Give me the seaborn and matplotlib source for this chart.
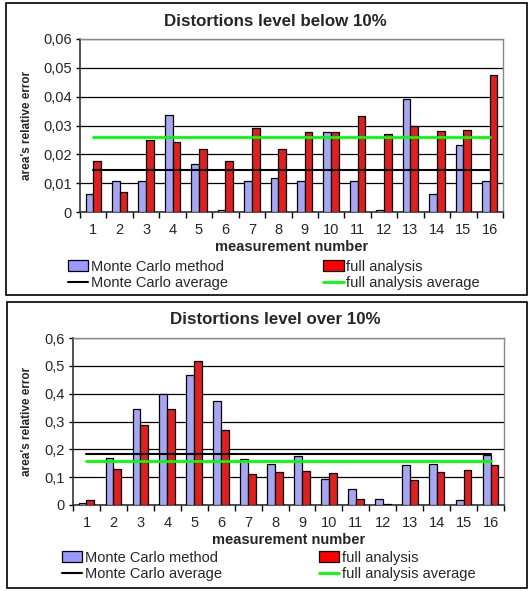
import numpy as np
import pandas as pd
import seaborn as sns
import matplotlib.pyplot as plt
from matplotlib.patches import Rectangle, Patch
from matplotlib.lines import Line2D
from matplotlib.ticker import FuncFormatter

# measurement numbers
measurements = [str(i) for i in range(1, 17)]

# distortions below 10%
mc_low = [0.0062, 0.0107, 0.0107, 0.0335, 0.0165, 0.0007, 0.0107, 0.0119,
          0.0107, 0.0277, 0.0107, 0.0007, 0.0392, 0.0062, 0.0234, 0.0107]
full_low = [0.0176, 0.0068, 0.0250, 0.0244, 0.0218, 0.0176, 0.0291, 0.0218,
            0.0276, 0.0277, 0.0333, 0.0272, 0.0297, 0.0280, 0.0283, 0.0475]
mc_low_avg = 0.0144
full_low_avg = 0.0259

# distortions over 10%
mc_high = [0.006, 0.170, 0.346, 0.398, 0.467, 0.375, 0.164, 0.148,
           0.177, 0.092, 0.056, 0.023, 0.143, 0.149, 0.018, 0.180]
full_high = [0.018, 0.129, 0.286, 0.344, 0.518, 0.271, 0.113, 0.118,
             0.123, 0.115, 0.021, 0.002, 0.089, 0.118, 0.124, 0.145]
mc_high_avg = 0.182
full_high_avg = 0.158

series_names = ['Monte Carlo method', 'full analysis']
avg_names = ['Monte Carlo average', 'full analysis average']
bar_colors = ['#9999FF', '#FF0000']
line_colors = ['black', '#00FF00']

sns.set_theme(style='white')
plt.rcParams['font.family'] = ['Liberation Sans', 'DejaVu Sans']

W, H = 532, 591
fig = plt.figure(figsize=(W / 100, H / 100), dpi=100)


def px(x0, y0, x1, y1):
    # pixel box -> figure fraction [left, bottom, width, height]
    return [x0 / W, 1 - y1 / H, (x1 - x0) / W, (y1 - y0) / H]


def comma(v, pos):
    if abs(v) < 1e-12:
        return '0'
    s = ('%.2f' % v).rstrip('0')
    return s.replace('.', ',')


def draw_panel(box, frame, title_y, mc, full, mc_avg, full_avg, ymax, ystep,
               title, ylab_x, leg_y, leg_x, colspace):
    ax = fig.add_axes(px(*box))
    df = pd.DataFrame({
        'measurement': measurements * 2,
        'value': mc + full,
        'series': [series_names[0]] * 16 + [series_names[1]] * 16,
    })
    sns.barplot(data=df, x='measurement', y='value', hue='series',
                order=measurements, hue_order=series_names,
                palette=bar_colors, width=0.58, edgecolor='black',
                linewidth=0.9, legend=False, ax=ax, zorder=3)
    xs = np.arange(len(measurements))
    ax.plot(xs, [mc_avg] * len(xs), color=line_colors[0], lw=1.5, zorder=4)
    ax.plot(xs, [full_avg] * len(xs), color=line_colors[1], lw=2, zorder=4)

    ax.set_xlim(-0.5, len(measurements) - 0.5)
    ax.set_ylim(0, ymax)
    ax.set_yticks(np.arange(0, ymax + ystep / 2, ystep))
    ax.yaxis.set_major_formatter(FuncFormatter(comma))
    ax.yaxis.grid(True, color='black', lw=0.9)
    ax.set_axisbelow(True)
    ax.set_xticks(np.arange(-0.5, len(measurements)), minor=True)
    ax.tick_params(axis='x', which='major', length=0, labelsize=10.5, pad=8)
    ax.tick_params(axis='x', which='minor', length=4, width=1, color='black',
                   direction='out', bottom=True)
    ax.tick_params(axis='y', length=3, width=1, color='black', direction='out',
                   left=True, labelsize=10.5, pad=3)
    for s in ['left', 'bottom']:
        ax.spines[s].set_color('#333333')
        ax.spines[s].set_linewidth(1.2)
    for s in ['top', 'right']:
        ax.spines[s].set_color('#888888')
        ax.spines[s].set_linewidth(1.0)
    ax.set_xlabel('measurement number', fontsize=10.5, fontweight='bold',
                  labelpad=2)
    ax.set_ylabel("area's relative error", fontsize=8.5, fontweight='bold')
    ax.yaxis.set_label_coords(ylab_x, 0.5)

    fig.text(275 / W, 1 - title_y / H, title, ha='center', va='center',
             fontsize=12.2, fontweight='bold')

    handles = [Patch(facecolor=bar_colors[0], edgecolor='black', lw=0.9),
               Line2D([], [], color=line_colors[0], lw=1.5),
               Patch(facecolor=bar_colors[1], edgecolor='black', lw=0.9),
               Line2D([], [], color=line_colors[1], lw=2)]
    labels = [series_names[0], avg_names[0], series_names[1], avg_names[1]]
    fig.legend(handles, labels, ncol=2, loc='center left',
               bbox_to_anchor=(leg_x / W, 1 - leg_y / H), frameon=False,
               fontsize=10.5, handlelength=1.4, handleheight=0.85,
               handletextpad=0.2, columnspacing=colspace, labelspacing=0.2,
               borderpad=0, borderaxespad=0)

    x0, y0, x1, y1 = frame
    fig.patches.append(Rectangle((x0 / W, 1 - y1 / H), (x1 - x0) / W,
                                 (y1 - y0) / H, transform=fig.transFigure,
                                 fill=False, edgecolor='black', lw=1.2))
    return ax


draw_panel((80, 39, 503, 212), (6, 3, 527, 295), 21, mc_low, full_low,
           mc_low_avg, full_low_avg, 0.06, 0.01,
           'Distortions level below 10%', -0.111, 275, 68, 6.5)
draw_panel((73, 338, 504, 505), (7, 302, 527, 588), 320, mc_high, full_high,
           mc_high_avg, full_high_avg, 0.6, 0.1,
           'Distortions level over 10%', -0.092, 566, 62, 6.6)

fig.savefig('out.png', dpi=100)
